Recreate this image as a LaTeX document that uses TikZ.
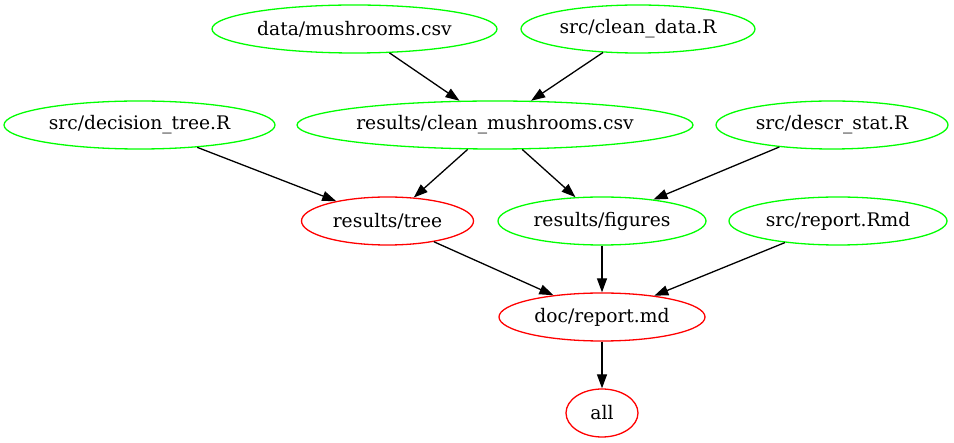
\documentclass[tikz,border=0pt]{standalone}
\usepackage{fontspec}
\setmainfont{DejaVu Serif}
\usetikzlibrary{shapes.geometric,arrows.meta}
\definecolor{gvgreen}{RGB}{0,255,0}
\definecolor{gvred}{RGB}{255,0,0}
\tikzset{
  x=1pt,y=-1pt,
  gnode/.style={ellipse,draw=#1,line width=1.3pt,inner sep=0pt,inner xsep=-12pt,minimum height=48pt,font=\fontsize{18.67}{22}\selectfont},
  green node/.style={gnode=gvgreen},
  red node/.style={gnode=gvred},
  edge/.style={draw=black,line width=1.3pt,-{Triangle[length=14pt,width=10pt]}}
}
\begin{document}
\begin{tikzpicture}
\useasboundingbox (0,0) rectangle (954,443);
\node[green node,minimum width=285pt] (mush) at (354.5,29) {data/mushrooms.csv};
\node[green node,minimum width=234pt] (clean) at (638,29) {src/clean\_data.R};
\node[green node,minimum width=271pt] (dtree) at (139.5,125) {src/decision\_tree.R};
\node[green node,minimum width=396pt] (cmush) at (495,125) {results/clean\_mushrooms.csv};
\node[green node,minimum width=232pt] (descr) at (832,125) {src/descr\_stat.R};
\node[red node,minimum width=172pt] (tree) at (387.5,221) {results/tree};
\node[green node,minimum width=208pt] (figs) at (602,221) {results/figures};
\node[green node,minimum width=218pt] (rmd) at (838,221) {src/report.Rmd};
\node[red node,minimum width=206pt] (md) at (602,317) {doc/report.md};
\node[red node,minimum width=72pt] (all) at (602,413) {all};
\draw[edge] (mush) -- (cmush);
\draw[edge] (clean) -- (cmush);
\draw[edge] (dtree) -- (tree);
\draw[edge] (cmush) -- (tree);
\draw[edge] (cmush) -- (figs);
\draw[edge] (descr) -- (figs);
\draw[edge] (tree) -- (md);
\draw[edge] (figs) -- (md);
\draw[edge] (rmd) -- (md);
\draw[edge] (md) -- (all);
\end{tikzpicture}
\end{document}
